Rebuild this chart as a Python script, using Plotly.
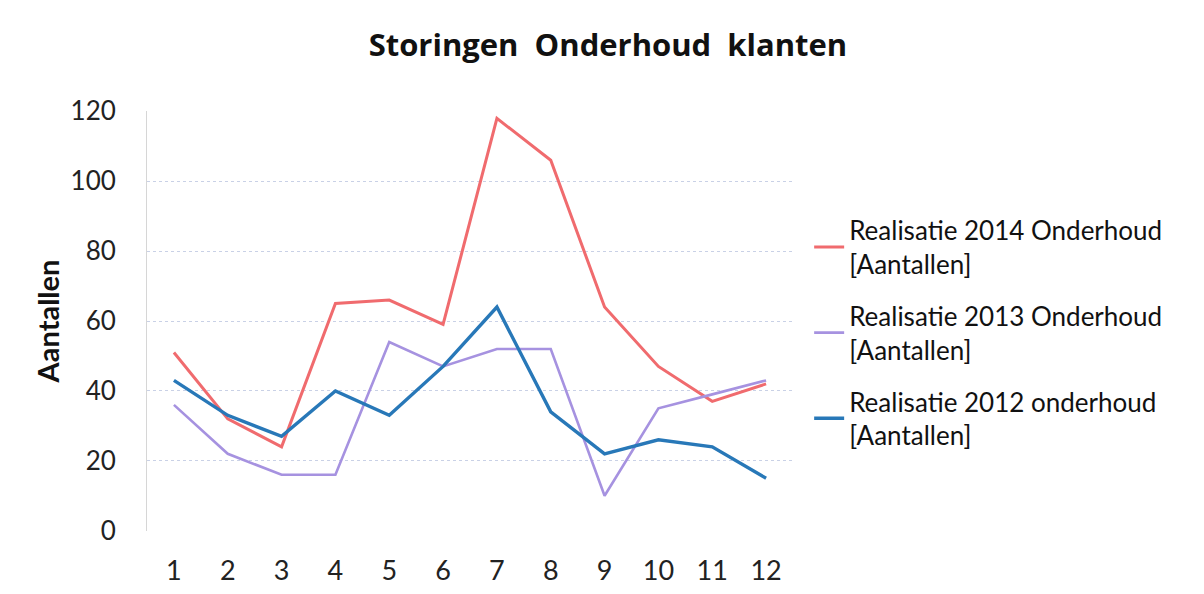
import plotly.graph_objects as go

months = [str(i) for i in range(1, 13)]
real_2014 = [51, 32, 24, 65, 66, 59, 118, 106, 64, 47, 37, 42]
real_2013 = [36, 22, 16, 16, 54, 47, 52, 52, 10, 35, 39, 43]
real_2012 = [43, 33, 27, 40, 33, 47, 64, 34, 22, 26, 24, 15]
y_ticks = [0, 20, 40, 60, 80, 100, 120]

names = [
    "Realisatie 2014 Onderhoud<br>[Aantallen]",
    "Realisatie 2013 Onderhoud<br>[Aantallen]",
    "Realisatie 2012 onderhoud<br>[Aantallen]",
]
colors = ["#f06b6e", "#a692e0", "#2878b8"]
widths = [3, 2.6, 3.4]

fig = go.Figure()
for i, (name, vals, c, w) in enumerate(zip(names, [real_2014, real_2013, real_2012], colors, widths)):
    fig.add_trace(go.Scatter(x=months, y=vals, mode="lines", name=name, legendgroup=f"g{i}",
                             line=dict(color=c, width=w)))

FONT = "Lato, Calibri, sans-serif"
NARROW = "Liberation Sans Narrow, Lato, sans-serif"
fig.update_layout(
    width=1188, height=578,
    paper_bgcolor="white", plot_bgcolor="white",
    margin=dict(l=139, r=403, t=103, b=55),
    title=dict(text="<b>Storingen  Onderhoud  klanten</b>", x=0.505, xanchor="center",
               y=0.936, yanchor="middle",
               font=dict(family="Open Sans, sans-serif", size=31, color="#111")),
    font=dict(family=FONT, color="#222"),
    showlegend=True,
    legend=dict(x=1.025, y=0.772, xanchor="left", yanchor="top",
                font=dict(family=FONT, size=26, color="#111"),
                tracegroupgap=15, itemwidth=30, bgcolor="rgba(0,0,0,0)"),
    xaxis=dict(type="category", range=[-0.5, 11.5], showgrid=False, zeroline=False,
               showline=False, ticks="", ticklabelstandoff=21, automargin=False,
               tickfont=dict(family=NARROW, size=27, color="#222")),
    yaxis=dict(range=[-0.1, 120.1], tickvals=y_ticks, showgrid=True, gridcolor="#c9d1e6",
               griddash="dot", gridwidth=1, zeroline=False, showline=True, automargin=False,
               linecolor="#d6d6d6", linewidth=1, ticks="", ticklabelstandoff=25,
               tickfont=dict(size=26, color="#222"),
               title=dict(text="<b>Aantallen</b>", font=dict(size=29, color="#111"), standoff=2)),
)

fig.write_html("out.html")
